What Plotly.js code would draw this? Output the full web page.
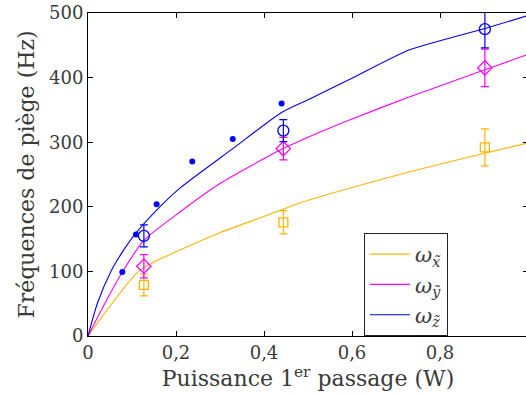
<!DOCTYPE html>
<html>
<head>
<meta charset="utf-8">
<script src="https://cdn.plot.ly/plotly-3.0.1.min.js"></script>
<style>
html,body{margin:0;padding:0;overflow:hidden;background:#fff;}
#chart{width:528px;height:396px;}
</style>
</head>
<body>
<div id="chart"></div>
<script>
// Fitted curves
const curveX_x = [0, 0.118, 0.209, 0.3, 0.4, 0.481, 0.6, 0.73, 0.902, 1.0];
const curveY_x = [0, 102, 133, 160, 185, 206, 230, 254, 283, 299];
const curveX_y = [0, 0.038, 0.078, 0.127, 0.209, 0.3, 0.44, 0.504, 0.6, 0.73, 0.902, 1.0];
const curveY_y = [0, 50, 99, 148, 192, 236, 289, 309, 336, 370, 412, 436];
const curveX_z = [0, 0.021, 0.052, 0.079, 0.106, 0.156, 0.209, 0.329, 0.44, 0.504, 0.6, 0.731, 0.902, 1.0];
const curveY_z = [0, 50, 100, 131, 157, 195, 229, 290, 346, 367, 399, 443, 476, 496];

// Filled points (blue dots)
const dotsX = [0.078, 0.109, 0.156, 0.237, 0.329, 0.440];
const dotsY = [99, 157, 204, 270, 305, 360];

// Measured points with error bars
const measX = [0.127, 0.444, 0.902];
const measZ = [155, 318, 475];
const errZ = [17, 17, 29];
const measY = [108, 290, 415];
const errY = [18, 17.5, 29];
const measXx = [79, 176, 292];
const errXx = [17, 18, 28.5];

const legendNames = ['<i>ω</i><sub><i>x̃</i></sub>', '<i>ω</i><sub><i>ỹ</i></sub>', '<i>ω</i><sub><i>z̃</i></sub>'];

const cYellow = '#FFB300', cMag = '#FF00FF', cBlue = '#0000FF';

const traces = [
  {x: curveX_x, y: curveY_x, mode: 'lines', line: {color: cYellow, width: 1.1, shape: 'spline', smoothing: 0.6}, name: legendNames[0]},
  {x: curveX_y, y: curveY_y, mode: 'lines', line: {color: cMag, width: 1.1, shape: 'spline', smoothing: 0.6}, name: legendNames[1]},
  {x: curveX_z, y: curveY_z, mode: 'lines', line: {color: cBlue, width: 1.1, shape: 'spline', smoothing: 0.6}, name: legendNames[2]},
  {x: dotsX, y: dotsY, mode: 'markers', marker: {color: cBlue, size: 6}, showlegend: false},
  {x: measX, y: measXx, mode: 'markers', showlegend: false, cliponaxis: false,
   marker: {symbol: 'square-open', color: cYellow, size: 9, line: {width: 1.3, color: cYellow}},
   error_y: {type: 'data', array: errXx, color: cYellow, thickness: 1.2, width: 4}},
  {x: measX, y: measY, mode: 'markers', showlegend: false, cliponaxis: false,
   marker: {symbol: 'diamond-open', color: cMag, size: 11, line: {width: 1.3, color: cMag}},
   error_y: {type: 'data', array: errY, color: cMag, thickness: 1.2, width: 4}},
  {x: measX, y: measZ, mode: 'markers', showlegend: false, cliponaxis: false,
   marker: {symbol: 'circle-open', color: cBlue, size: 11, line: {width: 1.3, color: cBlue}},
   error_y: {type: 'data', array: errZ, color: cBlue, thickness: 1.2, width: 4}}
];

const ff = 'DejaVu Serif';
const txt = '#3a3a3a';
const layout = {
  width: 528, height: 396,
  margin: {l: 88, r: 0, t: 13, b: 60},
  paper_bgcolor: '#fff', plot_bgcolor: '#fff',
  separators: ', ',
  font: {family: ff, size: 18, color: txt},
  showlegend: true,
  legend: {x: 0.627, y: 0.319, xanchor: 'left', yanchor: 'top',
           bgcolor: '#fff', bordercolor: '#222', borderwidth: 1,
           font: {family: ff, size: 21, color: txt},
           tracegroupgap: 0, itemwidth: 40},
  xaxis: {range: [0, 1], tick0: 0, dtick: 0.2, ticks: 'inside', ticklen: 5, tickcolor: '#000',
          showline: true, linecolor: '#000', linewidth: 1, mirror: 'ticks',
          showgrid: false, zeroline: false,
          tickfont: {family: ff, size: 18, color: txt},
          title: {text: 'Puissance 1<sup>er</sup> passage (W)', font: {family: ff, size: 22, color: txt}, standoff: 7}},
  yaxis: {range: [0, 500], tick0: 0, dtick: 100, ticks: 'inside', ticklen: 5, tickcolor: '#000',
          showline: true, linecolor: '#000', linewidth: 1, mirror: 'ticks',
          showgrid: false, zeroline: false,
          tickfont: {family: ff, size: 18, color: txt},
          title: {text: 'Fréquences de piège (Hz)', font: {family: ff, size: 22, color: txt}, standoff: 8}}
};

Plotly.newPlot('chart', traces, layout, {displayModeBar: false, staticPlot: true});
</script>
</body>
</html>
